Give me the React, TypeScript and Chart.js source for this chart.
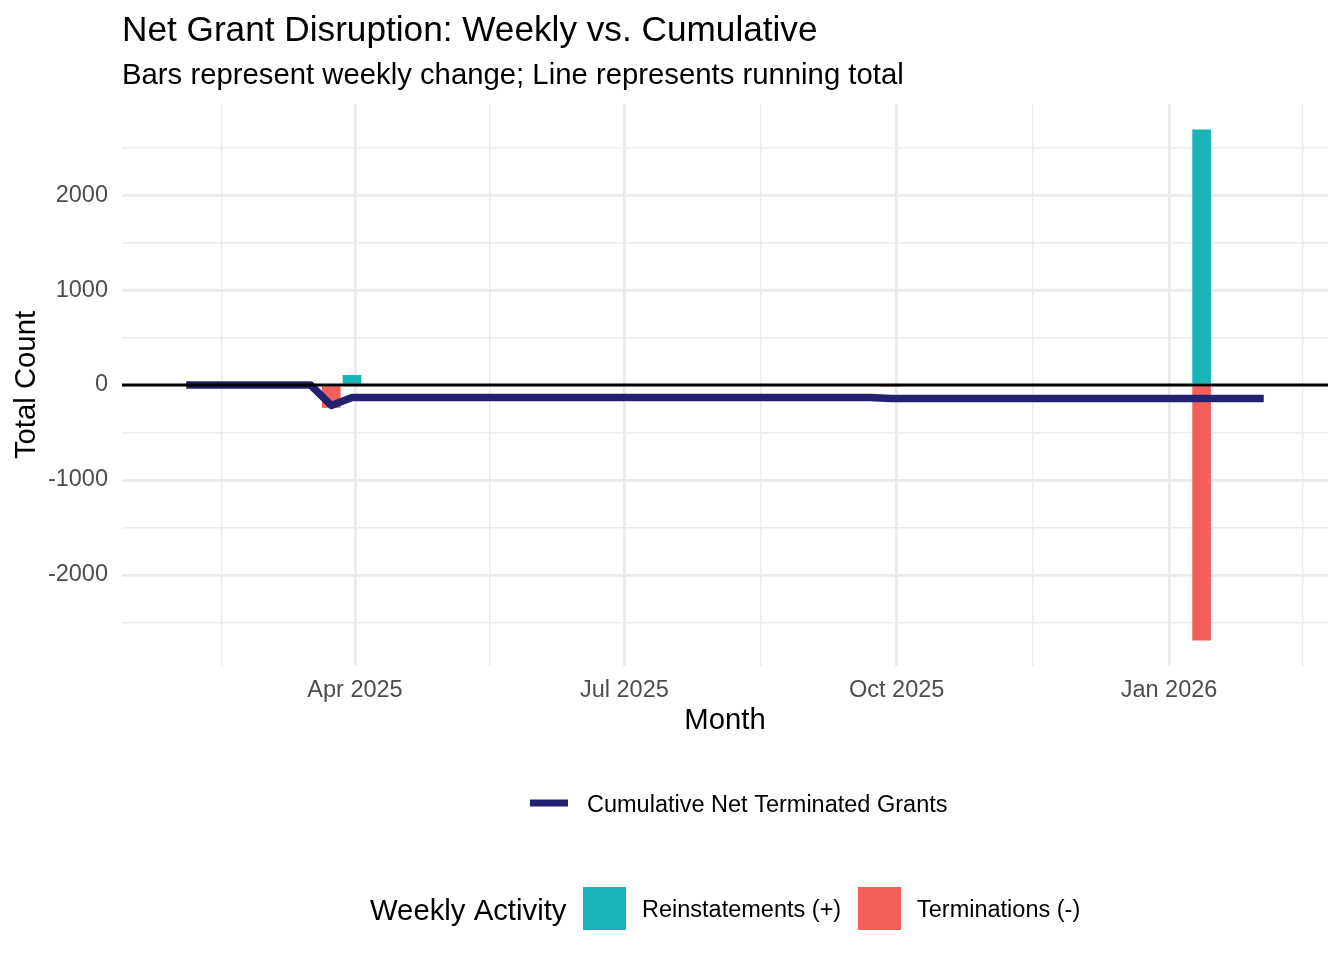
import React, { useEffect, useRef } from "react";
import { Chart, registerables } from "chart.js";

Chart.register(...registerables);

// ---------- data ----------
const weeks = [
  "2025-02-03", "2025-02-10", "2025-02-17", "2025-02-24",
  "2025-03-03", "2025-03-10", "2025-03-17", "2025-03-24", "2025-03-31",
  "2025-04-07", "2025-04-14", "2025-04-21", "2025-04-28",
  "2025-05-05", "2025-05-12", "2025-05-19", "2025-05-26",
  "2025-06-02", "2025-06-09", "2025-06-16", "2025-06-23", "2025-06-30",
  "2025-07-07", "2025-07-14", "2025-07-21", "2025-07-28",
  "2025-08-04", "2025-08-11", "2025-08-18", "2025-08-25",
  "2025-09-01", "2025-09-08", "2025-09-15", "2025-09-22", "2025-09-29",
  "2025-10-06", "2025-10-13", "2025-10-20", "2025-10-27",
  "2025-11-03", "2025-11-10", "2025-11-17", "2025-11-24",
  "2025-12-01", "2025-12-08", "2025-12-15", "2025-12-22", "2025-12-29",
  "2026-01-05", "2026-01-12", "2026-01-19", "2026-01-26",
  "2026-02-02",
];

const reinstatements = [
  0, 0, 0, 0,
  0, 0, 0, 0, 105,
  0, 0, 0, 0,
  0, 0, 0, 0,
  0, 0, 0, 0, 0,
  0, 0, 0, 0,
  0, 0, 0, 0,
  0, 0, 0, 0, 0,
  0, 0, 0, 0,
  0, 0, 0, 0,
  0, 0, 0, 0, 0,
  0, 2690, 0, 0,
  0,
];

const terminations = [
  0, 0, 0, 0,
  0, 0, 0, -240, 0,
  0, 0, 0, 0,
  0, 0, 0, 0,
  0, 0, 0, 0, 0,
  0, 0, 0, 0,
  0, 0, 0, 0,
  0, 0, 0, 0, -10,
  0, 0, 0, 0,
  0, 0, 0, 0,
  0, 0, 0, 0, 0,
  0, -2690, 0, 0,
  0,
];

const cumulative = [
  0, 0, 0, 0,
  0, 0, 0, -215, -132,
  -132, -132, -132, -132,
  -132, -132, -132, -132,
  -132, -132, -132, -132, -132,
  -132, -132, -132, -132,
  -132, -132, -132, -132,
  -132, -132, -132, -132, -142,
  -142, -142, -142, -142,
  -142, -142, -142, -142,
  -142, -142, -142, -142, -142,
  -142, -142, -142, -142,
  -142,
];

const xTickDates = ["2025-04-01", "2025-07-01", "2025-10-01", "2026-01-01"];
const xTickLabels = ["Apr 2025", "Jul 2025", "Oct 2025", "Jan 2026"];
const xOuterBreaks = ["2025-01-01", "2026-04-01"];
const yTickValues = [-2000, -1000, 0, 1000, 2000];
const yMinorTickValues = [-2500, -1500, -500, 500, 1500, 2500];

// ---------- styling ----------
const FONT = '"Liberation Sans", Arial, Helvetica, sans-serif';
const NAVY = "#24216F";
const TEAL = "#18B4B8";
const RED = "#F45F5B";
const GRID = "#EBEBEB";
const TICK = "#4D4D4D";

const toDay = (s: string) => {
  const [y, m, d] = s.split("-").map(Number);
  return Date.UTC(y, m - 1, d) / 86400000;
};

const xMajorDays = xTickDates.map(toDay);
const allBreakDays = [toDay(xOuterBreaks[0]), ...xMajorDays, toDay(xOuterBreaks[1])];
const xMinorDays: number[] = [];
for (let i = 0; i < allBreakDays.length - 1; i++) {
  xMinorDays.push((allBreakDays[i] + allBreakDays[i + 1]) / 2);
}
const xAllTicks = [...xMajorDays, ...xMinorDays].sort((a, b) => a - b);
const yAllTicks = [...yTickValues, ...yMinorTickValues].sort((a, b) => a - b);

const weekDays = weeks.map(toDay);
const xPad = 21.7;
const xMin = weekDays[0] - xPad;
const xMax = weekDays[weekDays.length - 1] + xPad;
const yLimit = 2959;

const isMajorX = (v: number) => xMajorDays.some((d) => Math.abs(d - v) < 0.01);
const isMajorY = (v: number) => yTickValues.includes(v);

const decorPlugin = {
  id: "decor",
  afterDatasetsDraw(chart: any) {
    const { ctx, chartArea, scales } = chart;
    const y0 = scales.y.getPixelForValue(0);
    ctx.save();
    ctx.strokeStyle = "#000000";
    ctx.lineWidth = 2.84;
    ctx.beginPath();
    ctx.moveTo(chartArea.left, y0);
    ctx.lineTo(chartArea.right, y0);
    ctx.stroke();
    ctx.restore();
  },
  afterDraw(chart: any) {
    const { ctx } = chart;
    ctx.save();
    ctx.textBaseline = "alphabetic";
    ctx.textAlign = "left";
    ctx.fillStyle = "#000000";
    // title & subtitle
    ctx.font = `35.2px ${FONT}`;
    ctx.fillText("Net Grant Disruption: Weekly vs. Cumulative", 122, 40.5);
    ctx.font = `29.3px ${FONT}`;
    ctx.fillText("Bars represent weekly change; Line represents running total", 122, 83.5);

    // line legend
    ctx.strokeStyle = NAVY;
    ctx.lineWidth = 7;
    ctx.lineCap = "butt";
    ctx.beginPath();
    ctx.moveTo(530, 803);
    ctx.lineTo(568, 803);
    ctx.stroke();
    ctx.font = `23.5px ${FONT}`;
    ctx.fillText("Cumulative Net Terminated Grants", 587, 812.4);

    // fill legend
    ctx.font = `29.3px ${FONT}`;
    ctx.fillText("Weekly Activity", 370, 919.5);
    ctx.fillStyle = TEAL;
    ctx.fillRect(583, 887, 43, 43);
    ctx.fillStyle = RED;
    ctx.fillRect(858, 887, 43, 43);
    ctx.fillStyle = "#000000";
    ctx.font = `23.5px ${FONT}`;
    ctx.fillText("Reinstatements (+)", 642, 917.4);
    ctx.fillText("Terminations (-)", 917, 917.4);
    ctx.restore();
  },
};

export default function App() {
  const canvasRef = useRef<HTMLCanvasElement | null>(null);

  useEffect(() => {
    document.body.style.margin = "0";
    const canvas = canvasRef.current;
    if (!canvas) return;

    const chart = new Chart(canvas, {
      type: "bar",
      data: {
        datasets: [
          {
            type: "line",
            label: "Cumulative Net Terminated Grants",
            data: weeks.map((w, i) => ({ x: toDay(w), y: cumulative[i] })),
            borderColor: NAVY,
            backgroundColor: NAVY,
            borderWidth: 7.5,
            pointRadius: 0,
            borderCapStyle: "butt",
            borderJoinStyle: "round",
            tension: 0,
            order: 0,
            stack: "cum",
          } as any,
          {
            type: "bar",
            label: "Reinstatements (+)",
            data: weeks.map((w, i) => ({ x: toDay(w), y: reinstatements[i] })),
            backgroundColor: TEAL,
            borderWidth: 0,
            barPercentage: 0.9,
            categoryPercentage: 1,
            stack: "activity",
            order: 1,
          } as any,
          {
            type: "bar",
            label: "Terminations (-)",
            data: weeks.map((w, i) => ({ x: toDay(w), y: terminations[i] })),
            backgroundColor: RED,
            borderWidth: 0,
            barPercentage: 0.9,
            categoryPercentage: 1,
            stack: "activity",
            order: 1,
          } as any,
        ],
      },
      options: {
        animation: false,
        responsive: false,
        devicePixelRatio: 1,
        layout: { padding: { top: 104, left: 0, right: 16, bottom: 214 } },
        plugins: {
          legend: { display: false },
          tooltip: { enabled: false },
          title: { display: false },
        },
        scales: {
          x: {
            type: "linear",
            min: xMin,
            max: xMax,
            offset: false,
            afterBuildTicks: (s: any) => {
              s.ticks = xAllTicks.map((v) => ({ value: v }));
            },
            afterFit: (s: any) => {
              s.height = 80;
            },
            ticks: {
              autoSkip: false,
              maxRotation: 0,
              minRotation: 0,
              padding: 10.5,
              color: TICK,
              font: { family: FONT, size: 23.5 },
              callback: (v: any) => {
                const idx = xMajorDays.findIndex((d) => Math.abs(d - Number(v)) < 0.01);
                return idx >= 0 ? xTickLabels[idx] : "";
              },
            },
            grid: {
              offset: false,
              color: GRID,
              lineWidth: (c: any) => (c.tick && isMajorX(c.tick.value) ? 2.84 : 1.42),
              drawTicks: false,
            },
            border: { display: false },
            title: {
              display: true,
              text: "Month",
              color: "#000000",
              font: { family: FONT, size: 29.3, lineHeight: 1 },
              padding: { top: 0, bottom: 10.85 },
            },
          },
          y: {
            type: "linear",
            min: -yLimit,
            max: yLimit,
            stacked: true,
            afterBuildTicks: (s: any) => {
              s.ticks = yAllTicks.map((v) => ({ value: v }));
            },
            afterFit: (s: any) => {
              s.width = 122;
            },
            ticks: {
              padding: 14,
              color: TICK,
              font: { family: FONT, size: 23.5 },
              callback: (v: any) => (isMajorY(Number(v)) ? String(v) : ""),
            },
            grid: {
              color: GRID,
              lineWidth: (c: any) => (c.tick && isMajorY(c.tick.value) ? 2.84 : 1.42),
              drawTicks: false,
            },
            border: { display: false },
            title: {
              display: true,
              text: "Total Count",
              color: "#000000",
              font: { family: FONT, size: 29.3, lineHeight: 1 },
              padding: { top: 12.35, bottom: 0 },
            },
          },
        },
      } as any,
      plugins: [decorPlugin as any],
    });

    return () => {
      chart.destroy();
    };
  }, []);

  return (
    <canvas
      ref={canvasRef}
      width={1344}
      height={960}
      style={{ display: "block", width: 1344, height: 960 }}
    />
  );
}
